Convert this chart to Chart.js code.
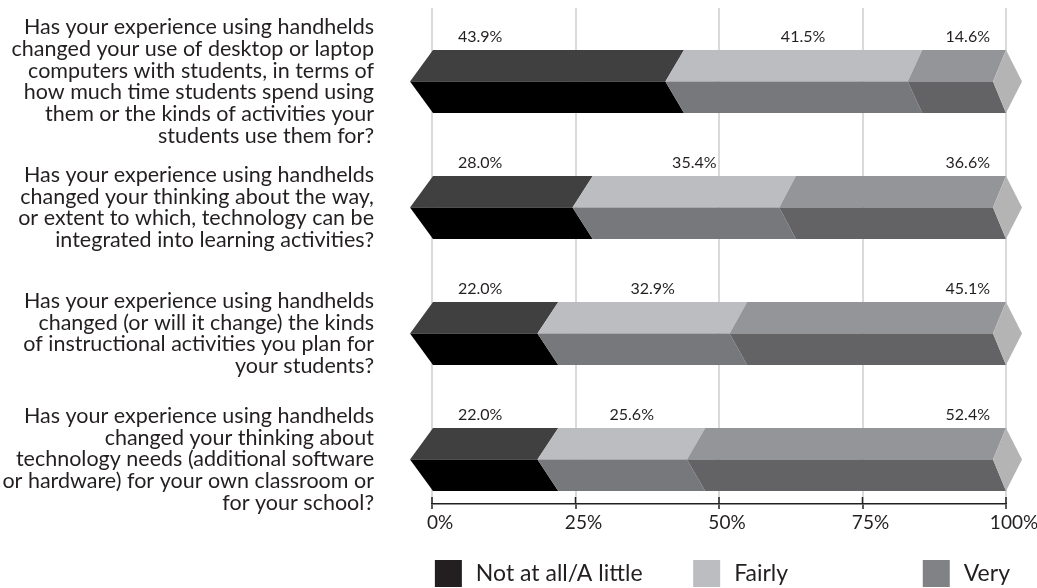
<!DOCTYPE html>
<html>
<head>
<meta charset="utf-8">
<title>Handhelds survey</title>
<script src="https://cdn.jsdelivr.net/npm/chart.js@4.4.0/dist/chart.umd.min.js"></script>
<style>
	body { margin: 0; background: #fff; }
	canvas { display: block; }
</style>
</head>
<body>
<canvas id="handhelds" width="1037" height="588"></canvas>
<script>
var questions = [
	['Has your experience using handhelds', 'changed your use of desktop or laptop', 'computers with students, in terms of',
		'how much time students spend using', 'them or the kinds of activities your', 'students use them for?'],
	['Has your experience using handhelds', 'changed your thinking about the way,', 'or extent to which, technology can be',
		'integrated into learning activities?'],
	['Has your experience using handhelds', 'changed (or will it change) the kinds', 'of instructional activities you plan for',
		'your students?'],
	['Has your experience using handhelds', 'changed your thinking about', 'technology needs (additional software',
		'or hardware) for your own classroom or', 'for your school?']
];

var answers = ['Not at all/A little', 'Fairly', 'Very'];

var notAtAll = [43.9, 28.0, 22.0, 22.0];
var fairly = [41.5, 35.4, 32.9, 25.6];
var very = [14.6, 36.6, 45.1, 52.4];

var percentTicks = [0, 25, 50, 75, 100];

var textColor = '#231f20';
var capColor = '#b4b4b4';

// where each legend entry starts, as a share of the plot width
var legendAt = [0.005, 0.455, 0.855];

function points(values) {
	return values.map(function (v, i) {
		return { x: v, y: i };
	});
}

// draws every bar as a stretched hexagonal prism: light top face, dark front face
var prismBars = {
	id: 'prismBars',
	beforeDatasetDraw: function () {
		return false;
	},
	afterDatasetsDraw: function (chart) {
		var ctx = chart.ctx;
		var xs = chart.scales.x;
		var last = chart.data.datasets.length - 1;

		function slant(px) {
			return 23 - 10 * (px - xs.left) / xs.width;
		}

		function poly(pts, color) {
			ctx.beginPath();
			ctx.moveTo(pts[0][0], pts[0][1]);
			for (var k = 1; k < pts.length; k++) ctx.lineTo(pts[k][0], pts[k][1]);
			ctx.closePath();
			ctx.fillStyle = color;
			ctx.fill();
		}

		ctx.save();
		chart.data.datasets.forEach(function (ds, d) {
			var meta = chart.getDatasetMeta(d);
			meta.data.forEach(function (bar, i) {
				var p = bar.getProps(['x', 'y', 'base', 'height'], true);
				var l = Math.min(p.x, p.base);
				var r = Math.max(p.x, p.base);
				var t = p.y - p.height / 2;
				var b = p.y + p.height / 2;
				var m = p.y;
				var lm = l - slant(l);
				var rm = r - slant(r);

				poly([[l, t], [r, t], [rm, m], [lm, m]], ds.topColor);
				poly([[lm, m], [rm, m], [r, b], [l, b]], ds.frontColor);
				if (d === last) {
					poly([[r, t], [r + 16, m], [r, b], [rm, m]], capColor);
				}

				var label = ds.data[i].x.toFixed(1) + '%';
				ctx.font = '16px Lato';
				ctx.fillStyle = textColor;
				ctx.textBaseline = 'middle';
				var ly = t - 13;
				if (d === 0) {
					ctx.textAlign = 'left';
					ctx.fillText(label, l + 25, ly);
				} else if (d === last) {
					ctx.textAlign = 'right';
					ctx.fillText(label, r - 16, ly);
				} else {
					ctx.textAlign = 'center';
					ctx.fillText(label, (l + r) / 2, ly);
				}
			});
		});
		ctx.restore();
	},
	afterDraw: function (chart) {
		var ctx = chart.ctx;
		var xs = chart.scales.x;
		var area = chart.chartArea;

		ctx.save();
		// tick marks poke up through the axis line
		ctx.strokeStyle = textColor;
		ctx.lineWidth = 1.5;
		xs.ticks.forEach(function (tick, i) {
			var px = xs.getPixelForTick(i);
			ctx.beginPath();
			ctx.moveTo(px, area.bottom - 7);
			ctx.lineTo(px, area.bottom);
			ctx.stroke();
		});

		// legend row
		ctx.font = '23px Lato';
		ctx.textAlign = 'left';
		ctx.textBaseline = 'middle';
		chart.data.datasets.forEach(function (ds, d) {
			var bx = xs.left + legendAt[d] * xs.width;
			ctx.fillStyle = ds.backgroundColor;
			ctx.fillRect(bx, 560, 27, 27);
			ctx.fillStyle = textColor;
			ctx.fillText(ds.label, bx + 41, 574);
		});
		ctx.restore();
	}
};

function draw() {
	var ctx = document.getElementById('handhelds').getContext('2d');

	var myChart = new Chart(ctx, {
		type: 'bar',
		data: {
			datasets: [{
				label: answers[0],
				data: points(notAtAll),
				backgroundColor: '#231f20',
				topColor: '#404040',
				frontColor: '#000000'
			}, {
				label: answers[1],
				data: points(fairly),
				backgroundColor: '#bcbdc0',
				topColor: '#bcbdc0',
				frontColor: '#77787b'
			}, {
				label: answers[2],
				data: points(very),
				backgroundColor: '#808285',
				topColor: '#939598',
				frontColor: '#636365'
			}]
		},
		options: {
			responsive: false,
			animation: false,
			indexAxis: 'y',
			barThickness: 63,
			layout: {
				padding: { top: 8, right: 31, bottom: 48, left: 0 }
			},
			plugins: {
				legend: { display: false },
				tooltip: { enabled: false }
			},
			scales: {
				x: {
					stacked: true,
					min: 0,
					max: 100,
					afterBuildTicks: function (scale) {
						scale.ticks = percentTicks.map(function (v) {
							return { value: v };
						});
					},
					afterFit: function (scale) {
						scale.height = 36;
						scale.paddingLeft = 0;
						scale.paddingRight = 0;
					},
					ticks: {
						color: textColor,
						font: { family: 'Lato', size: 19 },
						padding: 2,
						labelOffset: 8,
						maxRotation: 0,
						callback: function (value) {
							return value + '%';
						}
					},
					grid: {
						color: '#dadada',
						lineWidth: 2,
						tickColor: textColor,
						tickWidth: 1.5,
						tickLength: 5
					},
					border: { color: textColor, width: 1.5 }
				},
				y: {
					type: 'linear',
					stacked: true,
					reverse: true,
					offset: false,
					bounds: 'data',
					min: -0.583,
					max: 3.353,
					afterBuildTicks: function (scale) {
						scale.ticks = questions.map(function (q, i) {
							return { value: i };
						});
					},
					afterFit: function (scale) {
						scale.width = 432;
						scale.paddingTop = 0;
						scale.paddingBottom = 0;
					},
					ticks: {
						color: textColor,
						font: { family: 'Lato', size: 21.5, lineHeight: '21.7px' },
						padding: 58,
						autoSkip: false,
						callback: function (value) {
							return questions[value] || '';
						}
					},
					grid: { display: false, drawTicks: false },
					border: { display: false }
				}
			}
		},
		plugins: [prismBars]
	});
}

document.fonts.load('20px Lato').then(draw, draw);
</script>
</body>
</html>
